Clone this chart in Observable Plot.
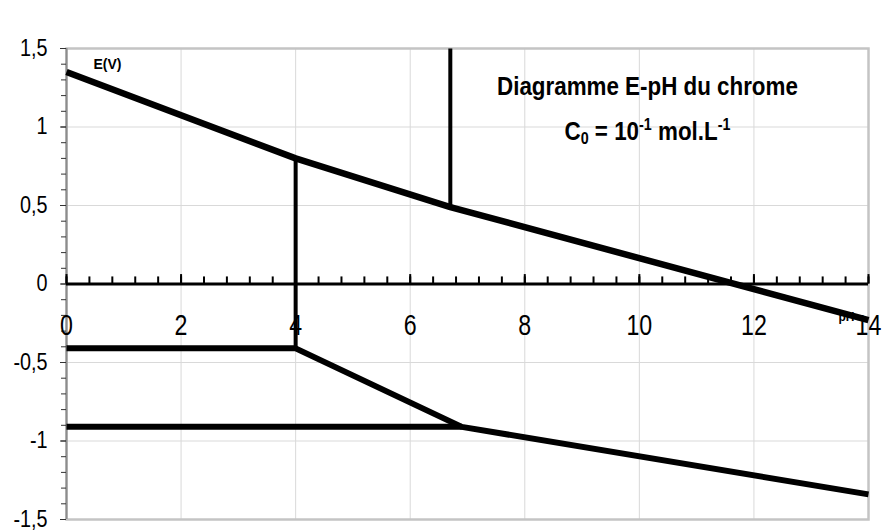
<!DOCTYPE html>
<html>
<head>
<meta charset="utf-8">
<script src="https://cdn.jsdelivr.net/npm/d3@7"></script>
<script src="https://cdn.jsdelivr.net/npm/@observablehq/plot@0.6"></script>
<style>
  body { margin: 0; background: #fff; }
  #chart svg { display: block; }
</style>
</head>
<body>
<div id="chart"></div>
<script>
const FONT = "'Liberation Sans',Arial,sans-serif";

// Frontières du diagramme E-pH du chrome (pH, E en V)
const frontiereHautPH = [0, 4, 6.7, 14];
const frontiereHautE = [1.35, 0.80, 0.49, -0.23];
const verticalePH4PH = [4, 4];
const verticalePH4E = [0.80, -0.41];
const verticalePH67PH = [6.7, 6.7];
const verticalePH67E = [1.5, 0.49];
const frontiereBasPH = [0, 4, 6.9, 14];
const frontiereBasE = [-0.41, -0.41, -0.91, -1.34];
const palierPH = [0, 6.9];
const palierE = [-0.91, -0.91];

// Graduations
const xTickValues = [0, 2, 4, 6, 8, 10, 12, 14];
const xTickLabels = ["0", "2", "4", "6", "8", "10", "12", "14"];
const yTickValues = [1.5, 1, 0.5, 0, -0.5, -1, -1.5];
const yTickLabels = ["1,5", "1", "0,5", "0", "-0,5", "-1", "-1,5"];
const xMinor = d3.range(0, 36).map(i => i * 0.4);
const yMinor = d3.range(-15, 16).map(i => i / 10);

const pts = (xs, ys) => xs.map((x, i) => ({x, y: ys[i]}));
const courbe = (xs, ys, w) => Plot.line(pts(xs, ys), {
  x: "x", y: "y", stroke: "#000", strokeWidth: w,
  strokeLinejoin: "miter", strokeLinecap: "butt"
});

const chart = Plot.plot({
  width: 882,
  height: 531,
  marginLeft: 66,
  marginRight: 14,
  marginTop: 48,
  marginBottom: 12,
  style: {fontFamily: FONT, background: "#fff"},
  x: {domain: [0, 14], axis: null},
  y: {domain: [-1.5, 1.5], axis: null},
  marks: [
    // quadrillage
    Plot.ruleX([2, 4, 6, 8, 10, 12], {stroke: "#d9d9d9", strokeWidth: 1}),
    Plot.ruleY([-1, -0.5, 0.5, 1], {stroke: "#d9d9d9", strokeWidth: 1}),
    Plot.frame({stroke: "#c4c4c4", strokeWidth: 2.5}),
    Plot.ruleX([0], {stroke: "#8c8c8c", strokeWidth: 2}),
    // axe des ordonnées
    Plot.axisY(yMinor, {tickSize: 5, tickFormat: () => "", label: null, stroke: "#333"}),
    Plot.axisY(yTickValues, {
      tickSize: 6, tickPadding: 13, stroke: "#333", label: null,
      tickFormat: d => yTickLabels[yTickValues.indexOf(d)],
      fontSize: 23, fill: "#000"
    }),
    // axe des abscisses tracé en E = 0
    Plot.ruleY([0], {x1: 0, x2: 14, stroke: "#000", strokeWidth: 3}),
    Plot.ruleX(xMinor, {y1: 0, y2: 0.045, stroke: "#000", strokeWidth: 2}),
    Plot.ruleX(xTickValues, {y1: 0, y2: 0.06, stroke: "#000", strokeWidth: 2}),
    Plot.text(xTickValues, {
      x: d => d, y: 0, dy: 42, text: (d, i) => xTickLabels[i],
      fontSize: 29, fill: "#000"
    }),
    // frontières
    courbe(frontiereHautPH, frontiereHautE, 6.5),
    courbe(verticalePH4PH, verticalePH4E, 4),
    courbe(verticalePH67PH, verticalePH67E, 4),
    courbe(frontiereBasPH, frontiereBasE, 6),
    courbe(palierPH, palierE, 6),
    // étiquettes d'axes
    Plot.text(["E(V)"], {x: 0, y: 1.5, dx: 27, dy: 16, textAnchor: "start", fontSize: 14, fontWeight: "bold", fill: "#000"}),
    Plot.text(["pH"], {x: 14, y: 0, dx: -30, dy: 33, textAnchor: "start", fontSize: 12, fontWeight: "bold", fill: "#000"})
  ]
});

// Titre sur deux lignes avec indices et exposants
const sx = chart.scale("x");
const svg = d3.select(chart);
const cx = sx.apply(10.15);
const t1 = svg.append("text")
  .attr("x", cx).attr("y", 95)
  .attr("text-anchor", "middle")
  .attr("font-family", FONT).attr("font-weight", "bold").attr("font-size", 25)
  .text("Diagramme E-pH du chrome");
const t2 = svg.append("text")
  .attr("x", cx).attr("y", 140)
  .attr("text-anchor", "middle")
  .attr("font-family", FONT).attr("font-weight", "bold").attr("font-size", 25);
t2.append("tspan").text("C");
t2.append("tspan").attr("font-size", 16).attr("dy", 4).text("0");
t2.append("tspan").attr("dy", -4).text(" = 10");
t2.append("tspan").attr("font-size", 16).attr("dy", -10).text("-1");
t2.append("tspan").attr("dy", 10).text(" mol.L");
t2.append("tspan").attr("font-size", 16).attr("dy", -10).text("-1");

document.getElementById("chart").appendChild(chart);

// Caractères étroits : compression horizontale des libellés de graduation
const factors = {"29px": 0.8, "23px": 0.86};
svg.selectAll("text").each(function () {
  const k = factors[getComputedStyle(this).fontSize];
  if (!k) return;
  const w = this.getComputedTextLength();
  if (w > 0) {
    this.setAttribute("textLength", (w * k).toFixed(2));
    this.setAttribute("lengthAdjust", "spacingAndGlyphs");
  }
});
// largeur du titre : 301 px
const kt = 301 / t1.node().getComputedTextLength();
d3.selectAll([t1.node(), t2.node()])
  .attr("transform", `translate(${cx},0) scale(${kt},1) translate(${-cx},0)`);
</script>
</body>
</html>
